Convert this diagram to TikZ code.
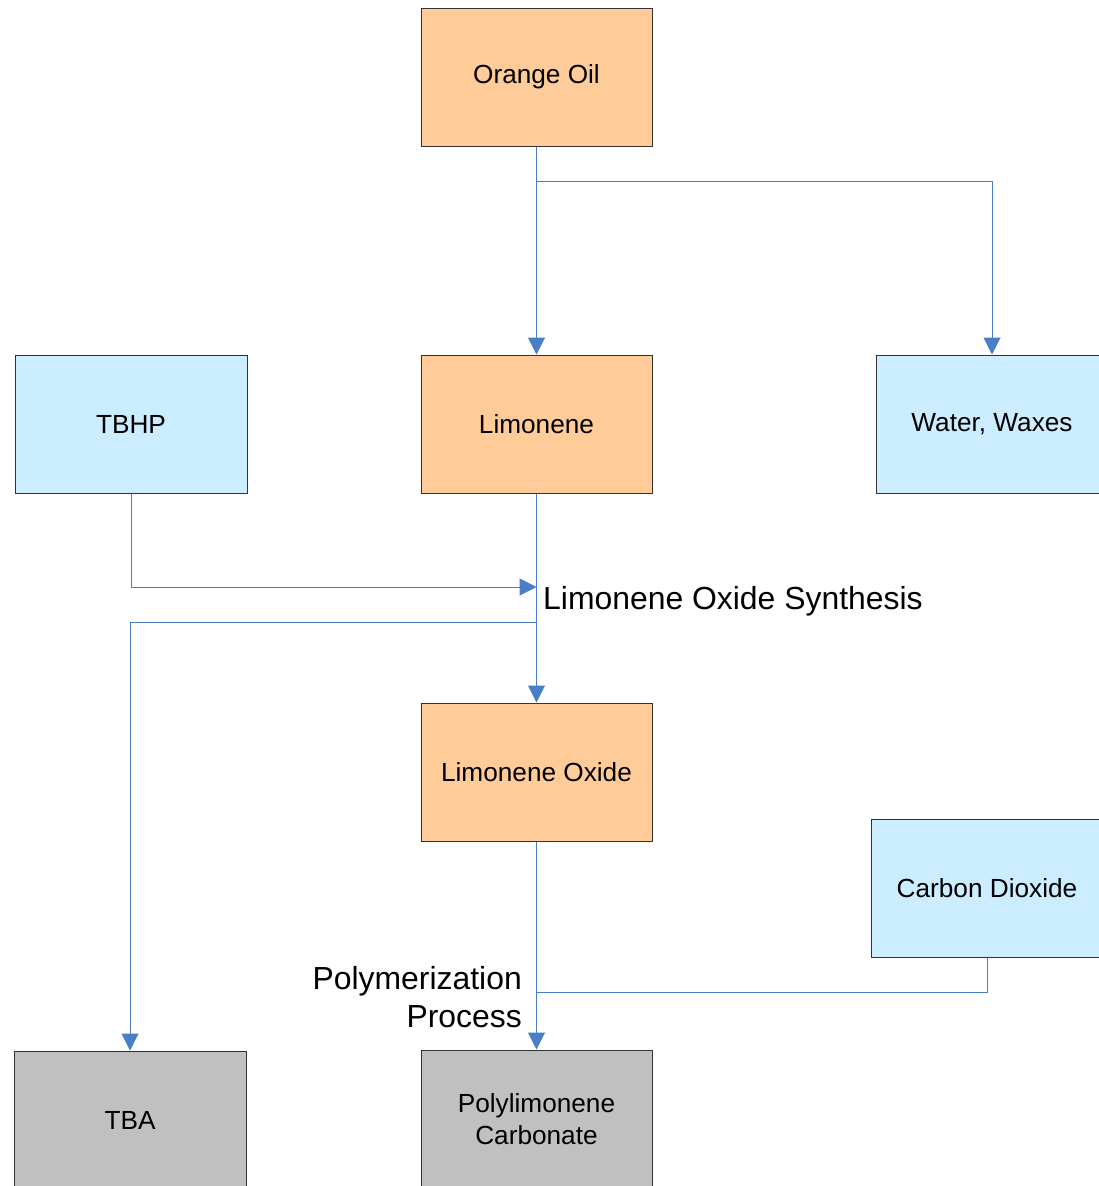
\documentclass[tikz,border=0pt]{standalone}
\usepackage{fontspec}
\setmainfont{Liberation Sans}
\usetikzlibrary{arrows.meta}
\definecolor{peach}{HTML}{FFCC99}
\definecolor{skyb}{HTML}{CCECFF}
\definecolor{greyb}{HTML}{C0C0C0}
\definecolor{linkb}{HTML}{4A7EC8}
\tikzset{
  box/.style={draw=black!80, line width=1pt, minimum width=231pt, minimum height=138pt, inner sep=0pt, align=center, font=\fontsize{26.2}{32}\selectfont},
  orangebox/.style={box, fill=peach},
  bluebox/.style={box, fill=skyb},
  greybox/.style={box, fill=greyb},
  link/.style={draw=linkb, line width=1pt},
  arr/.style={link, -{Triangle[length=17pt, width=17pt]}},
  biglabel/.style={font=\fontsize{31.9}{38}\selectfont, inner sep=0pt}
}
\begin{document}
\begin{tikzpicture}[x=1pt, y=-1pt]
\useasboundingbox (0,0) rectangle (1099,1186);
\clip (0,0) rectangle (1099,1186);
\fill[white] (0,0) rectangle (1099,1186);
\node[orangebox] (oil) at (536.5,77) {Orange Oil};
\node[orangebox] (lim) at (536.5,424) {Limonene};
\node[bluebox, minimum width=232pt] (tbhp) at (131,424) {TBHP};
\node[bluebox, minimum width=232pt] (water) at (992,424) {Water, Waxes};
\node[orangebox] (limox) at (536.5,772) {Limonene Oxide};
\node[bluebox] (co2) at (987,888.5) {Carbon Dioxide};
\node[greybox, minimum width=232pt] (tba) at (130,1120) {TBA};
\node[greybox] (poly) at (536.5,1119) {Polylimonene\\Carbonate};
\coordinate (j1) at (536.5,181);
\coordinate (m1) at (536.5,587);
\coordinate (m2) at (536.5,622);
\coordinate (j2) at (536.5,992);
\draw[arr] (oil.south) -- (lim.north);
\draw[arr] (j1) -| (water.north);
\draw[arr] (lim.south) -- (limox.north);
\draw[arr] (tbhp.south) |- (m1);
\draw[arr] (m2) -| (tba.north);
\draw[arr] (limox.south) -- (poly.north);
\draw[link] (co2.south) |- (j2);
\node[biglabel, anchor=west] (synth) at (543,601) {Limonene Oxide Synthesis};
\node[biglabel, anchor=east, align=right] (polyproc) at (522,997) {Polymerization\\Process};
\end{tikzpicture}
\end{document}
